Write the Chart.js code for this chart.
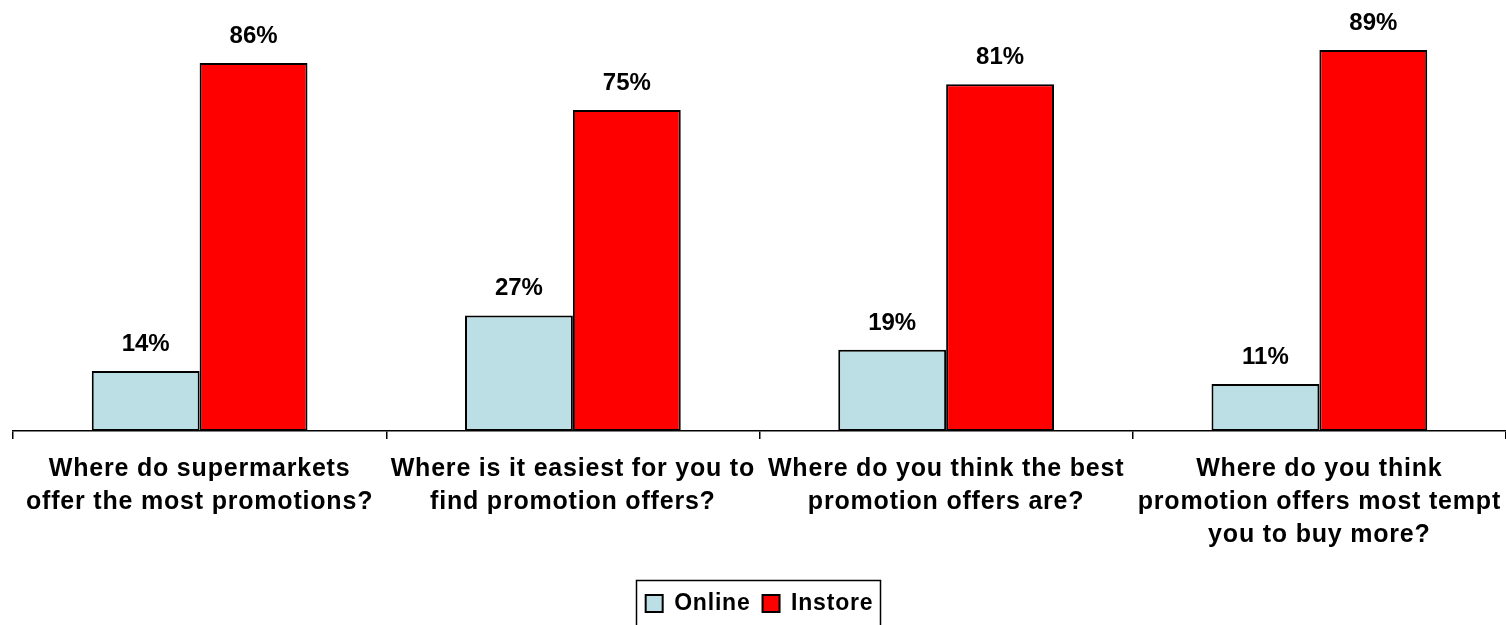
<!DOCTYPE html>
<html>
<head>
<meta charset="utf-8">
<title>Online vs Instore promotions</title>
<script src="https://cdn.jsdelivr.net/npm/chart.js@4/dist/chart.umd.min.js"></script>
<style>
  html, body { margin: 0; padding: 0; background: #fff; }
  #wrap { width: 1506px; height: 625px; position: relative; }
</style>
</head>
<body>
<div id="wrap"><canvas id="chart"></canvas></div>
<script>
// questions (x axis), one array of lines per category
const questions = [
  ['Where do supermarkets', 'offer the most promotions?'],
  ['Where is it easiest for you to', 'find promotion offers?'],
  ['Where do you think the best', 'promotion offers are?'],
  ['Where do you think', 'promotion offers most tempt', 'you to buy more?']
];
const seriesNames = ['Online', 'Instore'];
const online = [14, 27, 19, 11];
const instore = [86, 75, 81, 89];

const FONT = '"Liberation Sans", Arial, Helvetica, sans-serif';

// slightly looser tracking for axis and legend text
const tracking = {
  id: 'tracking',
  beforeLayout(chart) { chart.ctx.letterSpacing = '0.8px'; },
  beforeDraw(chart) { chart.ctx.letterSpacing = '0.8px'; }
};

// percent labels above each bar
const valueLabels = {
  id: 'valueLabels',
  afterDatasetsDraw(chart) {
    const ctx = chart.ctx;
    ctx.save();
    ctx.letterSpacing = '0px';
    ctx.font = 'bold 24px ' + FONT;
    ctx.fillStyle = '#000';
    ctx.textAlign = 'center';
    ctx.textBaseline = 'alphabetic';
    chart.data.datasets.forEach((ds, i) => {
      chart.getDatasetMeta(i).data.forEach((bar, j) => {
        ctx.fillText(ds.data[j] + '%', bar.x, bar.y - 20);
      });
    });
    ctx.restore();
  }
};

// frame around the legend
const legendFrame = {
  id: 'legendFrame',
  afterDraw(chart) {
    const lg = chart.legend;
    if (!lg || !lg.legendHitBoxes.length) return;
    const boxes = lg.legendHitBoxes;
    let l = Infinity, r = -Infinity;
    boxes.forEach(b => { l = Math.min(l, b.left); r = Math.max(r, b.left + b.width); });
    const ctx = chart.ctx;
    ctx.save();
    ctx.strokeStyle = '#000';
    ctx.lineWidth = 1.5;
    ctx.strokeRect(Math.round(l - 10) + 0.5, Math.round(lg.top) + 0.5, Math.round(r - l + 16), 60);
    ctx.restore();
  }
};

new Chart(document.getElementById('chart'), {
  type: 'bar',
  data: {
    labels: questions,
    datasets: [{
      label: seriesNames[0],
      data: online,
      backgroundColor: '#BBDFE4',
      borderColor: '#000',
      borderWidth: 2,
      borderSkipped: false
    }, {
      label: seriesNames[1],
      data: instore,
      backgroundColor: '#FF0000',
      borderColor: '#000',
      borderWidth: 2,
      borderSkipped: false
    }]
  },
  options: {
    responsive: true,
    maintainAspectRatio: false,
    animation: false,
    categoryPercentage: 0.578,
    barPercentage: 1,
    layout: { padding: { left: 13, right: 0, top: 3, bottom: 0 } },
    scales: {
      x: {
        offset: true,
        grid: {
          offset: true,
          drawOnChartArea: false,
          drawTicks: true,
          tickLength: 8,
          color: '#000',
          lineWidth: 1.5
        },
        border: { color: '#000', width: 1.5 },
        ticks: {
          color: '#000',
          padding: 14,
          maxRotation: 0,
          autoSkip: false,
          font: { family: FONT, size: 25, weight: 'bold', lineHeight: 1.32 }
        },
        afterFit(scale) {
          scale.height = 149;
          scale.paddingLeft = 0;
          scale.paddingRight = 0;
        }
      },
      y: {
        display: false,
        min: 0,
        max: 100
      }
    },
    plugins: {
      legend: {
        position: 'bottom',
        labels: {
          color: '#000',
          boxWidth: 17,
          boxHeight: 17,
          padding: 12,
          font: { family: FONT, size: 23, weight: 'bold' }
        }
      },
      tooltip: { enabled: false }
    }
  },
  plugins: [tracking, valueLabels, legendFrame]
});
</script>
</body>
</html>
